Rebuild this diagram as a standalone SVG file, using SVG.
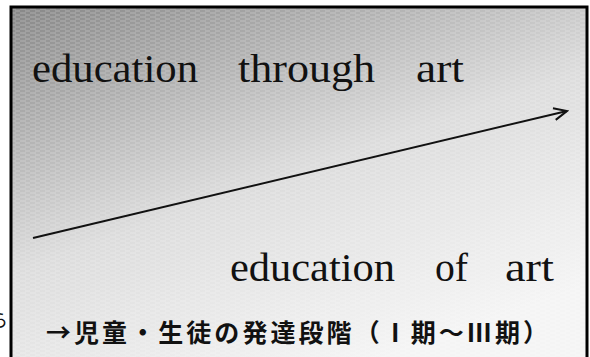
<svg xmlns="http://www.w3.org/2000/svg" width="590" height="357" viewBox="0 0 590 357">
  <style>
    .en { font-family: "Liberation Serif", "Times New Roman", serif; font-size: 40px; fill: #111; }
    .jp { font-family: "Noto Sans CJK JP", "Noto Sans", sans-serif; font-size: 25px; font-weight: bold; fill: #111; }
  </style>
  <defs>
    <linearGradient id="bg" x1="0" y1="0" x2="0.55" y2="1">
      <stop offset="0" stop-color="#878787"/>
      <stop offset="0.55" stop-color="#dcdcdc"/>
      <stop offset="1" stop-color="#f4f4f4"/>
    </linearGradient>
    <pattern id="tex" width="10" height="4" patternUnits="userSpaceOnUse">
      <line x1="0" y1="1" x2="6" y2="1" stroke="#ffffff" stroke-opacity="0.28" stroke-width="1"/>
      <line x1="5" y1="3" x2="11" y2="3" stroke="#ffffff" stroke-opacity="0.28" stroke-width="1"/>
    </pattern>
    <marker id="open" markerWidth="16" markerHeight="14" refX="14" refY="7" orient="auto" markerUnits="userSpaceOnUse">
      <path d="M1,1 L14,7 L1,13" fill="none" stroke="#111" stroke-width="2"/>
    </marker>
  </defs>
  <rect x="0" y="0" width="590" height="357" fill="#ffffff"/>
  <g id="frame">
    <rect x="11" y="7" width="576" height="370" fill="url(#bg)"/>
    <rect x="11" y="7" width="576" height="370" fill="url(#tex)"/>
    <rect x="11" y="7" width="576" height="370" fill="none" stroke="#000" stroke-width="3"/>
  </g>
  <g id="connectors">
    <line x1="33" y1="238" x2="567" y2="111" stroke="#111" stroke-width="2" marker-end="url(#open)"/>
  </g>
  <g id="through">
    <text class="en" x="32" y="82" textLength="166" lengthAdjust="spacingAndGlyphs">education</text>
    <text class="en" x="238" y="82" textLength="137" lengthAdjust="spacingAndGlyphs">through</text>
    <text class="en" x="416" y="82" textLength="48" lengthAdjust="spacingAndGlyphs">art</text>
  </g>
  <g id="of">
    <text class="en" x="230" y="281" textLength="165" lengthAdjust="spacingAndGlyphs">education</text>
    <text class="en" x="435" y="281" textLength="33" lengthAdjust="spacingAndGlyphs">of</text>
    <text class="en" x="505" y="281" textLength="49" lengthAdjust="spacingAndGlyphs">art</text>
  </g>
  <g id="stages">
    <text class="jp" x="46" y="342" textLength="502" lengthAdjust="spacing">→児童・生徒の発達段階（Ⅰ期～Ⅲ期）</text>
  </g>
  <g id="fragment">
    <text x="-10" y="327" style="font-family: 'Noto Sans CJK JP', sans-serif; font-size: 18px; fill: #111;">ら</text>
  </g>
</svg>
